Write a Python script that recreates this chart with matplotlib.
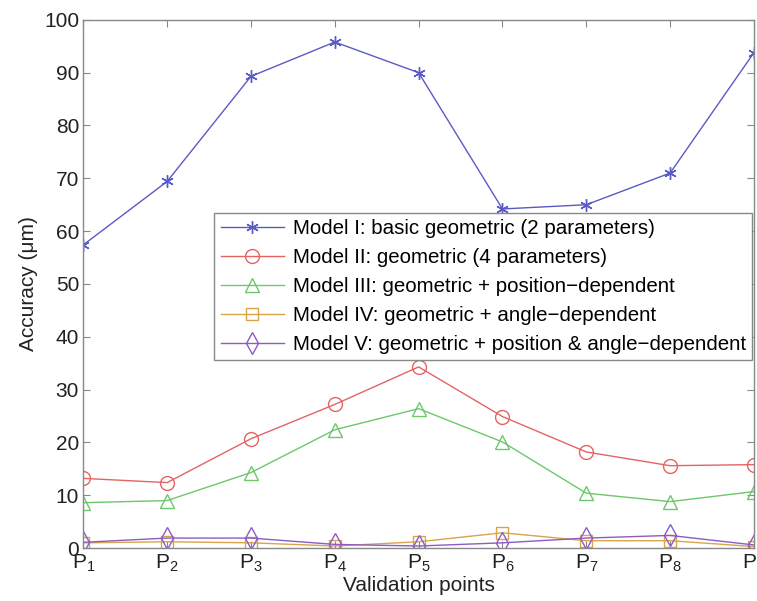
import numpy as np
import matplotlib
matplotlib.use('Agg')
import matplotlib.pyplot as plt

plt.rcParams['font.family'] = ['Liberation Sans', 'DejaVu Sans']
plt.rcParams['mathtext.fontset'] = 'custom'
plt.rcParams['mathtext.rm'] = 'Liberation Sans'
plt.rcParams['mathtext.it'] = 'Liberation Sans'

#======== Data ========
points = ['P$_1$', 'P$_2$', 'P$_3$', 'P$_4$', 'P$_5$', 'P$_6$', 'P$_7$', 'P$_8$', 'P$_9$']
model_1 = [57.4, 69.4, 89.3, 95.8, 90.0, 64.2, 65.0, 71.0, 93.8]
model_2 = [13.2, 12.4, 20.7, 27.2, 34.3, 24.9, 18.2, 15.6, 15.8]
model_3 = [8.6, 9.0, 14.3, 22.4, 26.4, 20.1, 10.4, 8.8, 10.7]
model_4 = [1.0, 1.2, 1.0, 0.4, 1.2, 2.9, 1.4, 1.4, 0.3]
model_5 = [1.1, 1.9, 1.9, 0.7, 0.4, 1.0, 1.9, 2.4, 0.6]

labels = [
    'Model I: basic geometric (2 parameters)',
    'Model II: geometric (4 parameters)',
    'Model III: geometric + position\u2212dependent',
    'Model IV: geometric + angle\u2212dependent',
    'Model V: geometric + position & angle\u2212dependent',
]

#======== Plot ========
fig = plt.figure(figsize=(7.57, 6.01), dpi=100)
ax = fig.add_axes([0.110, 0.088, 0.886, 0.879])

x = np.arange(len(points))
series = [model_1, model_2, model_3, model_4, model_5]
colors = ['#5a5ac4', '#e46464', '#6cc86c', '#d9a54a', '#8c5cc4']
markers = [(6, 2, 0), 'o', '^', 's', 'd']
msizes = [9, 10, 10, 8, 11]

for vals, c, m, ms, lab in zip(series, colors, markers, msizes, labels):
    ax.plot(x, vals, color=c, lw=1.0, marker=m, ms=ms, mfc='none', mew=1.0, label=lab)

ax.set_xlim(0, len(points) - 1)
ax.set_ylim(0, 100)
ax.set_xticks(x)
ax.set_xticklabels(points)
ax.set_yticks(np.arange(0, 101, 10))
ax.tick_params(direction='in', length=5, labelsize=15, colors='#222222', pad=3,
               top=True, right=True)
ax.tick_params(color='#888888')
for s in ax.spines.values():
    s.set_color('#888888')
    s.set_linewidth(1.0)

ax.set_xlabel('Validation points', fontsize=15, color='#222222', labelpad=2)
ax.set_ylabel('Accuracy (\u03bcm)', fontsize=15, color='#222222', labelpad=4)

leg = ax.legend(loc='upper left', bbox_to_anchor=(0.195, 0.635), fontsize=14.8,
                frameon=True, fancybox=False, edgecolor='#888888', framealpha=1,
                handlelength=3.1, borderpad=0.32, labelspacing=0.48, handletextpad=0.4,
                borderaxespad=0)
leg.get_frame().set_linewidth(1.0)
leg.set_clip_on(False)

fig.savefig('out.png', dpi=100)
